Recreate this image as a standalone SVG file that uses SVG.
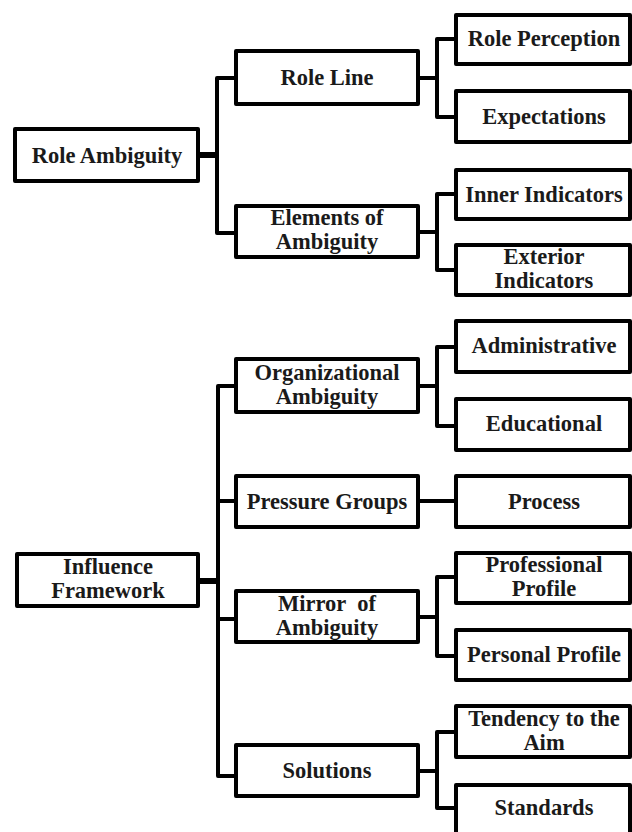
<svg xmlns="http://www.w3.org/2000/svg" width="632" height="832" viewBox="0 0 632 832">
<style>
.box rect{fill:#fff;stroke:#000;stroke-width:4;stroke-linejoin:round}
.box text{font-family:"Liberation Serif","Times New Roman",serif;font-weight:bold;font-size:22.5px;fill:#1a1a1a;text-anchor:middle;white-space:pre}
.conn path{fill:none;stroke:#000;stroke-width:4;stroke-linejoin:round}
.conn .stub{stroke-width:6}
</style>
<rect width="632" height="832" fill="#fff"/>
<g class="conn" id="connectors">
<path class="stub" d="M198,155 H217"/>
<path d="M236,78 H217 V233 H236"/>
<path d="M418,78 H437"/>
<path d="M456,39 H437 V117 H456"/>
<path d="M418,232 H437"/>
<path d="M456,194 H437 V270 H456"/>
<path class="stub" d="M198,581 H218"/>
<path d="M236,386 H218 V776 H236"/>
<path d="M218,501 H236"/>
<path d="M218,619 H236"/>
<path d="M418,386 H437"/>
<path d="M456,347 H437 V426 H456"/>
<path d="M418,501 H456"/>
<path d="M418,617 H437"/>
<path d="M456,577 H437 V656 H456"/>
<path d="M418,771 H437"/>
<path d="M456,732 H437 V808 H456"/>
</g>
<g class="box" id="role-ambiguity"><rect x="15" y="129" width="183" height="52"/><text x="107" y="163">Role Ambiguity</text></g>
<g class="box" id="influence-framework"><rect x="17" y="554" width="181" height="52"/><text x="108" y="574">Influence</text><text x="108" y="598">Framework</text></g>
<g class="box" id="role-line"><rect x="236" y="51" width="182" height="53"/><text x="327" y="85">Role Line</text></g>
<g class="box" id="elements-of-ambiguity"><rect x="236" y="206" width="182" height="51"/><text x="327" y="225">Elements of</text><text x="327" y="249">Ambiguity</text></g>
<g class="box" id="organizational-ambiguity"><rect x="236" y="359" width="182" height="53"/><text x="327" y="380">Organizational</text><text x="327" y="404">Ambiguity</text></g>
<g class="box" id="pressure-groups"><rect x="236" y="476" width="182" height="51"/><text x="327" y="509">Pressure Groups</text></g>
<g class="box" id="mirror-of-ambiguity"><rect x="236" y="591" width="182" height="51"/><text x="327" y="611">Mirror  of</text><text x="327" y="635">Ambiguity</text></g>
<g class="box" id="solutions"><rect x="236" y="745" width="182" height="51"/><text x="327" y="778">Solutions</text></g>
<g class="box" id="role-perception"><rect x="456" y="15" width="174" height="49"/><text x="544" y="46">Role Perception</text></g>
<g class="box" id="expectations"><rect x="456" y="91" width="174" height="51"/><text x="544" y="124">Expectations</text></g>
<g class="box" id="inner-indicators"><rect x="456" y="170" width="174" height="49"/><text x="544" y="202">Inner Indicators</text></g>
<g class="box" id="exterior-indicators"><rect x="456" y="245" width="174" height="50"/><text x="544" y="264">Exterior</text><text x="544" y="288">Indicators</text></g>
<g class="box" id="administrative"><rect x="456" y="321" width="174" height="51"/><text x="544" y="353">Administrative</text></g>
<g class="box" id="educational"><rect x="456" y="399" width="174" height="51"/><text x="544" y="431">Educational</text></g>
<g class="box" id="process"><rect x="456" y="476" width="174" height="51"/><text x="544" y="509">Process</text></g>
<g class="box" id="professional-profile"><rect x="456" y="553" width="174" height="50"/><text x="544" y="572">Professional</text><text x="544" y="596">Profile</text></g>
<g class="box" id="personal-profile"><rect x="456" y="630" width="174" height="50"/><text x="544" y="662">Personal Profile</text></g>
<g class="box" id="tendency-to-the-aim"><rect x="456" y="706" width="174" height="51"/><text x="544" y="726">Tendency to the</text><text x="544" y="750">Aim</text></g>
<g class="box" id="standards"><rect x="456" y="785" width="174" height="51"/><text x="544" y="815">Standards</text></g>
</svg>
